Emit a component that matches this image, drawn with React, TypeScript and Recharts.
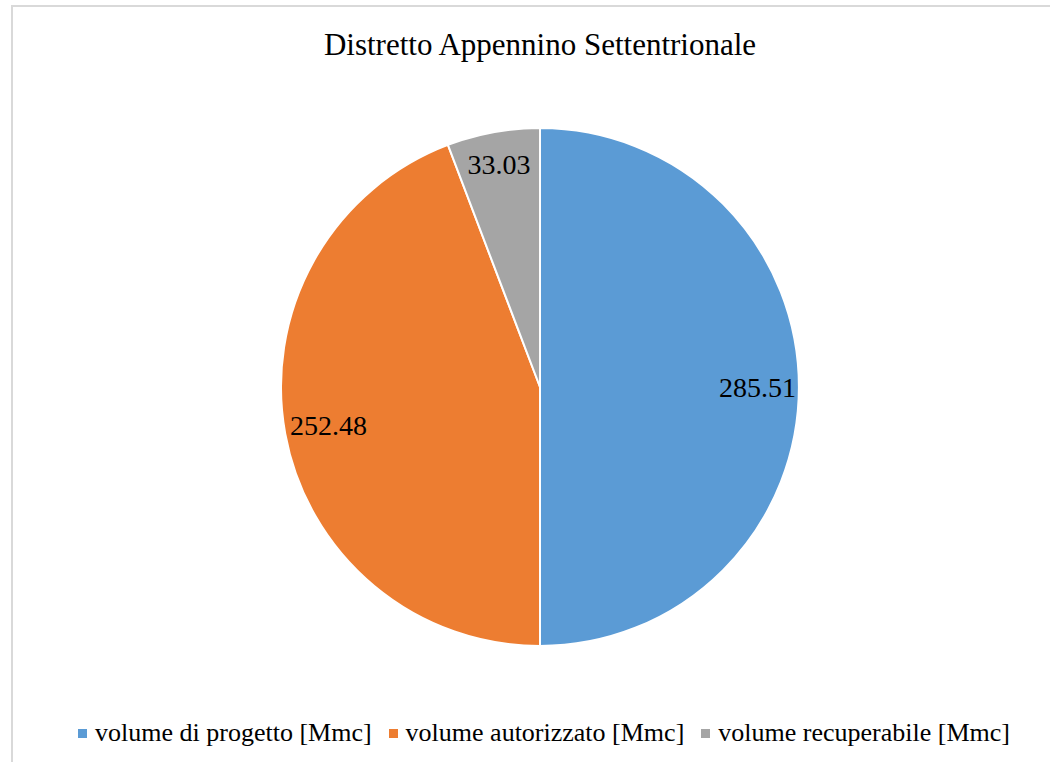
import { PieChart, Pie, Cell, Legend } from "recharts";

const SERIES = ["volume di progetto [Mmc]", "volume autorizzato [Mmc]", "volume recuperabile [Mmc]"];
const VALUES = [285.51, 252.48, 33.03];
const COLORS = ["#5B9BD5", "#ED7D31", "#A5A5A5"];

const FONT = '"Liberation Serif", "Times New Roman", serif';
const RAD = Math.PI / 180;
// how far out the value labels sit (share of the radius), per slice
const LABEL_POS = [0.84, 0.83, 0.875];

const data = SERIES.map((name, i) => ({ name, value: VALUES[i] }));

function renderLabel(props: any) {
  const { cx, cy, midAngle, outerRadius, value, index } = props;
  const r = outerRadius * LABEL_POS[index];
  const x = cx + r * Math.cos(-midAngle * RAD);
  const y = cy + r * Math.sin(-midAngle * RAD);
  return (
    <text x={x} y={y} textAnchor="middle" dominantBaseline="central" fill="#000" fontSize={28} fontFamily={FONT}>
      {value.toFixed(2)}
    </text>
  );
}

function LegendContent() {
  return (
    <div style={{ display: "flex", justifyContent: "center", alignItems: "center", fontFamily: FONT, fontSize: 26, color: "#000", lineHeight: "30px" }}>
      {SERIES.map((s, i) => (
        <span key={s} style={{ display: "flex", alignItems: "center", marginRight: i < SERIES.length - 1 ? 17 : 0 }}>
          <span style={{ width: 9, height: 9, background: COLORS[i], display: "inline-block", marginRight: 8 }} />
          {s}
        </span>
      ))}
    </div>
  );
}

export default function App() {
  return (
    <div style={{ position: "absolute", left: 0, top: 0, width: 1050, height: 762, background: "#fff", overflow: "hidden" }}>
      <div style={{ position: "absolute", left: 11, top: 5, width: 1100, height: 800, border: "2px solid #d9d9d9" }} />
      <div style={{ position: "absolute", left: 0, top: 27, width: 1080, textAlign: "center", fontFamily: FONT, fontSize: 31, lineHeight: "36px", color: "#000" }}>
        Distretto Appennino Settentrionale
      </div>
      <div style={{ position: "absolute", left: 0, top: 0 }}>
        <PieChart width={1050} height={762} margin={{ top: 0, right: 0, bottom: 0, left: 0 }}>
          <Pie
            data={data}
            dataKey="value"
            nameKey="name"
            cx={540}
            cy={387}
            outerRadius={259}
            startAngle={90}
            endAngle={-270}
            stroke="#fff"
            strokeWidth={2}
            label={renderLabel}
            labelLine={false}
            isAnimationActive={false}
          >
            {data.map((d, i) => (
              <Cell key={d.name} fill={COLORS[i]} />
            ))}
          </Pie>
          <Legend verticalAlign="bottom" align="center" content={<LegendContent />} wrapperStyle={{ left: 0, width: 1088, bottom: 14 }} />
        </PieChart>
      </div>
    </div>
  );
}
